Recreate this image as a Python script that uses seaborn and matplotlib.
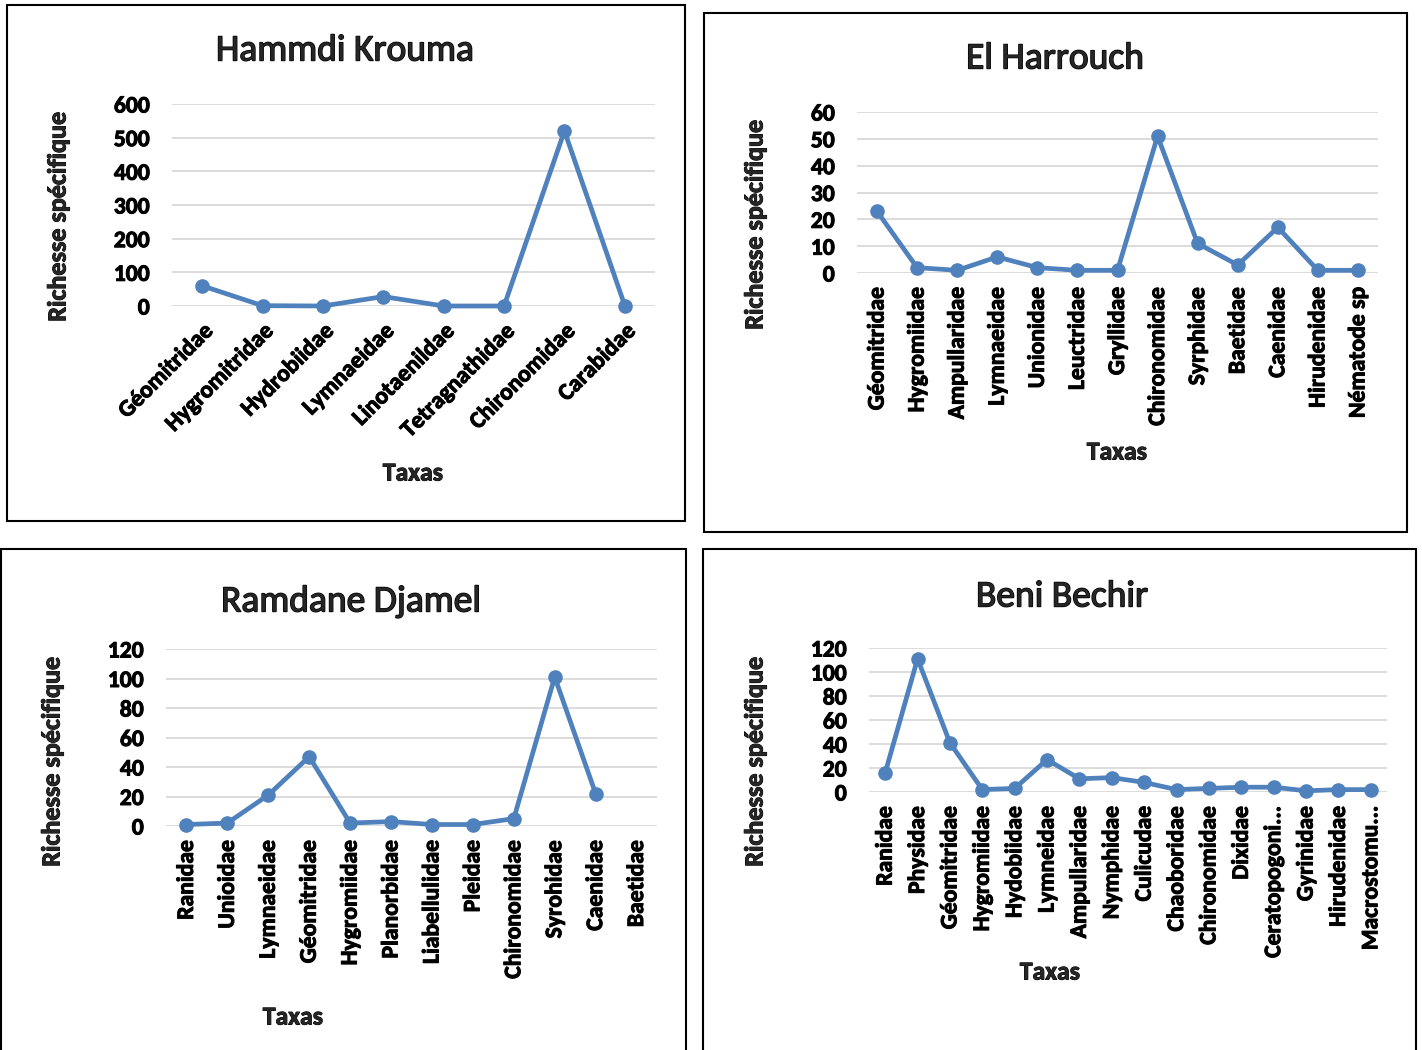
import numpy as np
import matplotlib.pyplot as plt
import matplotlib.patheffects as pe
import matplotlib.transforms as mtrans
import seaborn as sns
from matplotlib.patches import Rectangle

# 1. Data
hk_taxa = ["Géomitridae", "Hygromitridae", "Hydrobiidae", "Lymnaeidae",
           "Linotaenildae", "Tetragnathidae", "Chironomidae", "Carabidae"]
hk_vals = [60, 1, 0, 28, 0, 0, 520, 1]

eh_taxa = ["Géomitridae", "Hygromiidae", "Ampullaridae", "Lymnaeidae", "Unionidae",
           "Leuctridae", "Gryllidae", "Chironomidae", "Syrphidae", "Baetidae",
           "Caenidae", "Hirudenidae", "Nématode sp"]
eh_vals = [23, 2, 1, 6, 2, 1, 1, 51, 11, 3, 17, 1, 1]

rd_taxa = ["Ranidae", "Unioidae", "Lymnaeidae", "Géomitridae", "Hygromiidae",
           "Planorbidae", "Liabellulidae", "Pleidae", "Chironomidae", "Syrohidae",
           "Caenidae", "Baetidae"]
rd_vals = [1, 2, 21, 47, 2, 3, 1, 1, 5, 101, 22, np.nan]

bb_taxa = ["Ranidae", "Physidae", "Géomitridae", "Hygromiidae", "Hydobiidae",
           "Lymneidae", "Ampullaridae", "Nymphidae", "Culicudae", "Chaoboridae",
           "Chironomidae", "Dixidae", "Ceratopogoni...", "Gyrinidae", "Hirudenidae",
           "Macrostomu..."]
bb_vals = [16, 111, 41, 2, 3, 27, 11, 12, 8, 2, 3, 4, 4, 1, 2, 2]

# 2. Style
sns.set_style("white")
plt.rcParams["font.family"] = ["Carlito", "Lato", "DejaVu Sans"]
plt.rcParams["font.weight"] = "bold"
BLUE = "#4F81BD"
W, H = 1422, 1050
HEAVY = [pe.withStroke(linewidth=0.7, foreground="black")]

fig = plt.figure(figsize=(W / 100, H / 100), dpi=100)


def box(x0, y0, x1, y1):
    fig.add_artist(Rectangle((x0 / W, 1 - y1 / H), (x1 - x0) / W, (y1 - y0) / H,
                             transform=fig.transFigure, fill=False,
                             edgecolor="black", lw=1.5))


def panel(rect, taxa, vals, ymax, ystep, rot, title, tpos, ylpos, xlpos):
    x0, y0, x1, y1 = rect
    ax = fig.add_axes([x0 / W, 1 - y1 / H, (x1 - x0) / W, (y1 - y0) / H])
    pos = np.arange(len(taxa))
    sns.lineplot(x=pos, y=vals, ax=ax, color=BLUE, lw=3.4, marker="o",
                 markersize=10.5, markeredgecolor=BLUE, markeredgewidth=0,
                 clip_on=False)
    ax.set_xlim(-0.5, len(taxa) - 0.5)
    ax.set_ylim(0, ymax)
    ax.set_yticks(np.arange(0, ymax + 1, ystep))
    ax.set_xticks(pos)
    if rot == 45:
        labs = ax.set_xticklabels(taxa, rotation=45, ha="right", va="top",
                                  rotation_mode="anchor")
        shift = mtrans.ScaledTranslation(-5 / 100, -3 / 100, fig.dpi_scale_trans)
        for lab in labs:
            lab.set_transform(lab.get_transform() + shift)
    else:
        ax.set_xticklabels(taxa, rotation=90)
    ax.tick_params(axis="both", length=0, labelsize=17, labelcolor="black")
    ax.tick_params(axis="y", pad=16)
    ax.tick_params(axis="x", pad=10)
    for lab in ax.get_xticklabels() + ax.get_yticklabels():
        lab.set_path_effects(HEAVY)
    ax.grid(axis="y", color="#D9D9D9", lw=1.3)
    ax.set_axisbelow(True)
    sns.despine(ax=ax, left=True, bottom=True)
    ax.set_xlabel("")
    ax.set_ylabel("")
    fig.text(tpos[0] / W, 1 - tpos[1] / H, title, fontsize=27,
             fontweight="normal", ha="center", va="center",
             path_effects=[pe.withStroke(linewidth=1.0, foreground="black")])
    fig.text(ylpos[0] / W, 1 - ylpos[1] / H, "Richesse spécifique", fontsize=18.8,
             rotation=90, ha="center", va="center", path_effects=HEAVY)
    fig.text(xlpos[0] / W, 1 - xlpos[1] / H, "Taxas", fontsize=18.5,
             ha="center", va="center", path_effects=HEAVY)
    return ax


# 3. Panel frames
box(7, 5, 685, 521)
box(704, 13, 1407, 532)
box(1, 549, 686, 1052)
box(703, 549, 1416, 1052)

# 4. Panels
panel((172, 104, 655, 306), hk_taxa, hk_vals, 600, 100, 45,
      "Hammdi Krouma", (345, 50), (58, 217), (413, 473))
panel((857, 112, 1378, 273), eh_taxa, eh_vals, 60, 10, 90,
      "El Harrouch", (1055, 58), (755, 225), (1117, 452))
panel((166, 649, 657, 826), rd_taxa, rd_vals, 120, 20, 90,
      "Ramdane Djamel", (351, 601), (52, 762), (293, 1017))
panel((869, 648, 1387, 792), bb_taxa, bb_vals, 120, 20, 90,
      "Beni Bechir", (1062, 596), (755, 762), (1050, 972))

fig.savefig("out.png", dpi=100)
